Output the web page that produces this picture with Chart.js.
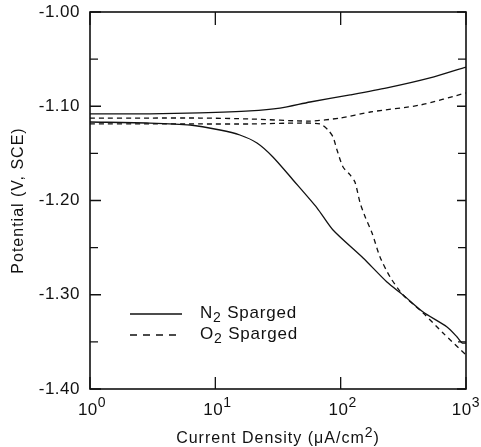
<!DOCTYPE html>
<html>
<head>
<meta charset="utf-8">
<script src="https://cdn.jsdelivr.net/npm/chart.js@4.4.1/dist/chart.umd.min.js"></script>
<style>
  html, body { margin: 0; padding: 0; background: #fff; }
  #wrap { width: 481px; height: 447px; position: relative; }
</style>
</head>
<body>
<div id="wrap"><canvas id="chart"></canvas></div>
<script>
// Polarization curves (current density in uA/cm2, potential in V vs SCE)
const n2AnodicI = [1, 3.0, 7.5, 18.9, 32.8, 57.0, 119, 234, 516, 1000];
const n2AnodicV = [-1.108, -1.108, -1.107, -1.105, -1.102, -1.0955, -1.088, -1.0806, -1.070, -1.0584];

const n2CathodicI = [1, 3.0, 6.3, 10.9, 15.7, 21.5, 28.8, 41.7, 64.9, 86.9, 151, 234, 315, 455, 706, 849, 931, 1000];
const n2CathodicV = [-1.1167, -1.1178, -1.1199, -1.1252, -1.1305, -1.139, -1.1538, -1.1782, -1.208, -1.2313, -1.261, -1.2865, -1.3003, -1.3183, -1.3342, -1.3448, -1.3512, -1.3512];

const o2AnodicI = [1, 3.0, 7.5, 18.9, 57.0, 98.9, 172, 431, 1000];
const o2AnodicV = [-1.1125, -1.1125, -1.1125, -1.1135, -1.1157, -1.1125, -1.1061, -1.0987, -1.0859];

const o2CathodicI = [1, 3.0, 7.5, 18.9, 47.4, 68.5, 79.3, 86.9, 93.5, 104.5, 119, 130, 143, 157, 178, 206, 248, 315, 455, 656, 1000];
const o2CathodicV = [-1.1188, -1.1188, -1.1188, -1.1188, -1.1178, -1.1188, -1.1252, -1.1326, -1.1464, -1.1645, -1.1729, -1.1804, -1.2027, -1.2175, -1.2345, -1.2599, -1.2812, -1.3003, -1.3194, -1.3406, -1.3639];

// Axis ticks and labels
const yTicks = [-1.00, -1.10, -1.20, -1.30, -1.40];
const yTickLabels = ['-1.00', '-1.10', '-1.20', '-1.30', '-1.40'];
const yMinorTicks = [-1.05, -1.15, -1.25, -1.35];
const xTicks = [1, 10, 100, 1000];
const xTickExponents = ['0', '1', '2', '3'];

const legendNames = [['N', '2', ' Sparged'], ['O', '2', ' Sparged']];

const FONT = '"Liberation Sans", Arial, Helvetica, sans-serif';
const DASH = [5, 4];

function pts(xs, ys) {
    return xs.map((x, i) => ({ x: x, y: ys[i] }));
}

function line(data, dashed) {
    return {
        data: data,
        borderColor: '#111',
        borderWidth: 1.3,
        borderDash: dashed ? DASH : [],
        pointRadius: 0,
        showLine: true,
        tension: 0.25,
        fill: false
    };
}

// draws base text followed by a raised (sup) or lowered (sub) smaller part
function textWithScript(ctx, parts, x, y, size, small, shift) {
    ctx.font = size + 'px ' + FONT;
    ctx.fillText(parts[0], x, y);
    let w = ctx.measureText(parts[0]).width;
    ctx.font = small + 'px ' + FONT;
    ctx.fillText(parts[1], x + w, y + shift);
    w += ctx.measureText(parts[1]).width;
    if (parts[2]) {
        ctx.font = size + 'px ' + FONT;
        ctx.fillText(parts[2], x + w, y);
        w += ctx.measureText(parts[2]).width;
    }
    return w;
}

function measureParts(ctx, parts, size, small) {
    ctx.font = size + 'px ' + FONT;
    let w = ctx.measureText(parts[0]).width;
    ctx.font = small + 'px ' + FONT;
    w += ctx.measureText(parts[1]).width;
    if (parts[2]) {
        ctx.font = size + 'px ' + FONT;
        w += ctx.measureText(parts[2]).width;
    }
    return w;
}

const framePlugin = {
    id: 'frame',
    afterDraw(chart) {
        const ctx = chart.ctx;
        const a = chart.chartArea;
        const xs = chart.scales.x;
        const ys = chart.scales.y;
        ctx.save();
        ctx.strokeStyle = '#111';
        ctx.fillStyle = '#111';
        ctx.lineWidth = 1.6;
        ctx.setLineDash([]);
        ctx.strokeRect(a.left, a.top, a.right - a.left, a.bottom - a.top);

        // y ticks, inward on both sides
        ctx.lineWidth = 1.3;
        ctx.beginPath();
        yTicks.forEach(v => {
            const p = ys.getPixelForValue(v);
            ctx.moveTo(a.left, p); ctx.lineTo(a.left + 11, p);
            ctx.moveTo(a.right, p); ctx.lineTo(a.right - 9, p);
        });
        yMinorTicks.forEach(v => {
            const p = ys.getPixelForValue(v);
            ctx.moveTo(a.left, p); ctx.lineTo(a.left + 8, p);
            ctx.moveTo(a.right, p); ctx.lineTo(a.right - 8, p);
        });
        // x ticks, inward top and bottom
        xTicks.forEach(v => {
            const p = xs.getPixelForValue(v);
            ctx.moveTo(p, a.bottom); ctx.lineTo(p, a.bottom - 12);
            ctx.moveTo(p, a.top); ctx.lineTo(p, a.top + 13);
        });
        ctx.stroke();

        // y tick labels
        ctx.letterSpacing = '0.5px';
        ctx.font = '17px ' + FONT;
        ctx.textAlign = 'right';
        ctx.textBaseline = 'middle';
        yTicks.forEach((v, i) => {
            ctx.fillText(yTickLabels[i], a.left - 10, ys.getPixelForValue(v));
        });

        // x tick labels: 10 with exponent
        ctx.textAlign = 'left';
        ctx.textBaseline = 'alphabetic';
        xTicks.forEach((v, i) => {
            const parts = ['10', xTickExponents[i]];
            const w = measureParts(ctx, parts, 17, 14);
            let x = xs.getPixelForValue(v) - w / 2 + 2;
            x = Math.min(x, chart.width - w - 1);
            textWithScript(ctx, parts, x, a.bottom + 26, 17, 14, -8);
        });

        // x axis title
        ctx.letterSpacing = '1px';
        const xt = ['Current Density (\u03BCA/cm', '2', ')'];
        const tw = measureParts(ctx, xt, 16, 14);
        textWithScript(ctx, xt, (a.left + a.right) / 2 - tw / 2, a.bottom + 54, 16, 14, -6);

        // y axis title
        ctx.save();
        ctx.translate(23, (a.top + a.bottom) / 2);
        ctx.rotate(-Math.PI / 2);
        ctx.font = '16px ' + FONT;
        ctx.textAlign = 'center';
        ctx.fillText('Potential (V, SCE)', 0, 0);
        ctx.restore();

        // legend
        ctx.letterSpacing = '0.8px';
        const lx = a.left + 40;
        const rows = [a.bottom - 75, a.bottom - 54];
        rows.forEach((ry, i) => {
            ctx.lineWidth = 1.3;
            ctx.setLineDash(i === 1 ? [7, 6] : []);
            ctx.beginPath();
            ctx.moveTo(lx, ry);
            ctx.lineTo(lx + 52, ry);
            ctx.stroke();
            ctx.setLineDash([]);
            textWithScript(ctx, legendNames[i], lx + 70, ry + 4, 17, 14, 4);
        });
        ctx.restore();
    }
};

new Chart(document.getElementById('chart'), {
    type: 'scatter',
    data: {
        datasets: [
            line(pts(n2AnodicI, n2AnodicV), false),
            line(pts(n2CathodicI, n2CathodicV), false),
            line(pts(o2AnodicI, o2AnodicV), true),
            line(pts(o2CathodicI, o2CathodicV), true)
        ]
    },
    options: {
        responsive: true,
        maintainAspectRatio: false,
        animation: false,
        layout: { padding: { left: 0, top: 12, right: 15, bottom: 0 } },
        plugins: {
            legend: { display: false },
            tooltip: { enabled: false }
        },
        scales: {
            x: {
                type: 'logarithmic',
                min: 1,
                max: 1000,
                grid: { display: false },
                border: { display: false },
                ticks: { display: false },
                afterFit(s) { s.height = 58; }
            },
            y: {
                type: 'linear',
                min: -1.40,
                max: -1.00,
                grid: { display: false },
                border: { display: false },
                ticks: { display: false },
                afterFit(s) { s.width = 90; }
            }
        }
    },
    plugins: [framePlugin]
});
</script>
</body>
</html>
